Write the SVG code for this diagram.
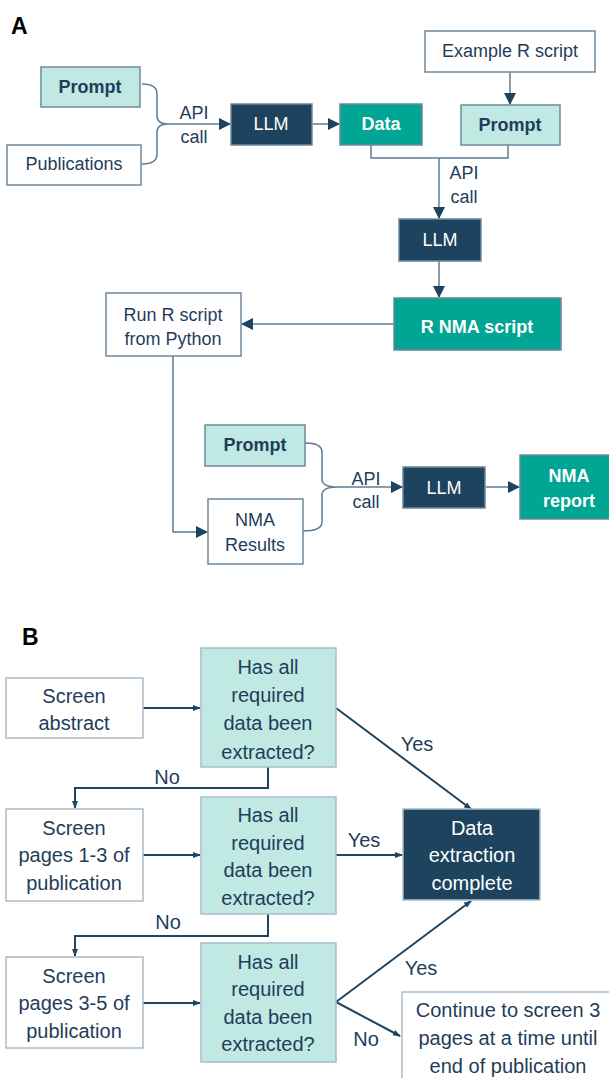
<svg xmlns="http://www.w3.org/2000/svg" width="609" height="1078" viewBox="0 0 609 1078">
<style>
text{font-family:"Liberation Sans",Arial,sans-serif;fill:#1f3d5a;text-anchor:middle}
.lbl{font-size:23px;font-weight:bold;fill:#000;text-anchor:start}
.a{font-size:18px}
.ab{font-size:18px;font-weight:bold}
.w{fill:#fff}
.b{font-size:20px}
.wbox{fill:#fff;stroke:#6f889c;stroke-width:1.5}
.lt{fill:#c0e9e4;stroke:#6f889c;stroke-width:1.5}
.tl{fill:#00a593;stroke:#6f889c;stroke-width:1.5}
.nv{fill:#1d435e;stroke:#6f889c;stroke-width:1.5}
.wboxB{fill:#fff;stroke:#a9bccb;stroke-width:1.5}
.ltB{fill:#c0e9e4;stroke:#a9bccb;stroke-width:1.5}
.nvB{fill:#1d435e;stroke:#a9bccb;stroke-width:1.5}
.cA{fill:none;stroke:#5f7b92;stroke-width:1.5}
.cB{fill:none;stroke:#1f4560;stroke-width:2}
</style>
<defs>
<marker id="ah" markerWidth="12" markerHeight="12" refX="11" refY="6" orient="auto" markerUnits="userSpaceOnUse"><path d="M0,0 L12,6 L0,12 Z" fill="#1d435e"/></marker>
<marker id="sh" markerWidth="8" markerHeight="8" refX="7" refY="4" orient="auto" markerUnits="userSpaceOnUse"><path d="M0,1 L8,4 L0,7 Z" fill="#1f4560"/></marker>
</defs>
<text class="lbl" x="11" y="34">A</text>
<text class="lbl" x="22" y="645">B</text>
<g id="connectors">
<path class="cA" d="M142,84 Q157,84 157,94 L157,116 Q157,124 168,124 M142,164 Q157,164 157,154 L157,132 Q157,124 168,124"/>
<path class="cA" d="M168,124 L230,124" marker-end="url(#ah)"/>
<path class="cA" d="M313,124 L339,124" marker-end="url(#ah)"/>
<path class="cA" d="M510,72 L510,104" marker-end="url(#ah)"/>
<path class="cA" d="M371,145 L371,158 L508,158 L508,145"/>
<path class="cA" d="M439,158 L439,218" marker-end="url(#ah)"/>
<path class="cA" d="M439,261 L439,297" marker-end="url(#ah)"/>
<path class="cA" d="M394,324 L242,324" marker-end="url(#ah)"/>
<path class="cA" d="M173,356 L173,532 L207,532" marker-end="url(#ah)"/>
<path class="cA" d="M305,443 Q322,443 322,452 L322,479 Q322,487 337,487 M303,531 Q322,531 322,522 L322,495 Q322,487 337,487"/>
<path class="cA" d="M337,487 L402,487" marker-end="url(#ah)"/>
<path class="cA" d="M486,487 L519,487" marker-end="url(#ah)"/>
<path class="cB" d="M143,708 L200,708" marker-end="url(#sh)"/>
<path class="cB" d="M268,767 L268,788 L75,788 L75,808" marker-end="url(#sh)"/>
<path class="cB" d="M336,708 L471,809" marker-end="url(#sh)"/>
<path class="cB" d="M143,855 L200,855" marker-end="url(#sh)"/>
<path class="cB" d="M336,855 L402,855" marker-end="url(#sh)"/>
<path class="cB" d="M268,914 L268,936 L75,936 L75,956" marker-end="url(#sh)"/>
<path class="cB" d="M143,1003 L200,1003" marker-end="url(#sh)"/>
<path class="cB" d="M336,1002 L471,901" marker-end="url(#sh)"/>
<path class="cB" d="M336,1002 L400,1036" marker-end="url(#sh)"/>
<text class="a" x="194" y="119">API</text>
<text class="a" x="194" y="143">call</text>
<text class="a" x="464" y="179">API</text>
<text class="a" x="464" y="203">call</text>
<text class="a" x="366" y="485">API</text>
<text class="a" x="366" y="508">call</text>
<text class="b" x="167" y="784">No</text>
<text class="b" x="417" y="751">Yes</text>
<text class="b" x="364" y="847">Yes</text>
<text class="b" x="168" y="929">No</text>
<text class="b" x="421" y="975">Yes</text>
<text class="b" x="366" y="1046">No</text>
</g>
<g id="prompt1"><rect class="lt" x="41" y="67" width="99" height="40"/><text class="ab" x="90" y="93">Prompt</text></g>
<g id="publications"><rect class="wbox" x="7" y="145" width="134" height="40"/><text class="a" x="74" y="170">Publications</text></g>
<g id="llm1"><rect class="nv" x="231" y="104" width="81" height="41"/><text class="a w" x="271" y="130">LLM</text></g>
<g id="data"><rect class="tl" x="340" y="104" width="82" height="41"/><text class="ab w" x="381" y="130">Data</text></g>
<g id="example"><rect class="wbox" x="425" y="31" width="170" height="41"/><text class="a" x="510" y="57">Example R script</text></g>
<g id="prompt2"><rect class="lt" x="461" y="105" width="99" height="40"/><text class="ab" x="510" y="131">Prompt</text></g>
<g id="llm2"><rect class="nv" x="399" y="219" width="82" height="42"/><text class="a w" x="440" y="246">LLM</text></g>
<g id="rnma"><rect class="tl" x="394" y="298" width="167" height="52"/><text class="ab w" x="477" y="333">R NMA script</text></g>
<g id="runr"><rect class="wbox" x="106" y="293" width="135" height="63"/><text class="a" x="173" y="321">Run R script</text><text class="a" x="173" y="345">from Python</text></g>
<g id="prompt3"><rect class="lt" x="205" y="425" width="100" height="41"/><text class="ab" x="255" y="451">Prompt</text></g>
<g id="nmaresults"><rect class="wbox" x="208" y="499" width="95" height="65"/><text class="a" x="255" y="526">NMA</text><text class="a" x="255" y="551">Results</text></g>
<g id="llm3"><rect class="nv" x="403" y="467" width="82" height="41"/><text class="a w" x="444" y="494">LLM</text></g>
<g id="nmareport"><rect class="tl" x="520" y="455" width="100" height="64"/><text class="ab w" x="569" y="482">NMA</text><text class="ab w" x="569" y="507">report</text></g>
<g id="screenabstract"><rect class="wboxB" x="6" y="678" width="137" height="60"/><text class="b" x="74" y="703">Screen</text><text class="b" x="74" y="730">abstract</text></g>
<g id="q1"><rect class="ltB" x="201" y="648" width="135" height="119"/><text class="b" x="268" y="674">Has all</text><text class="b" x="268" y="702">required</text><text class="b" x="268" y="730">data been</text><text class="b" x="268" y="759">extracted?</text></g>
<g id="screen13"><rect class="wboxB" x="6" y="809" width="137" height="92"/><text class="b" x="74" y="835">Screen</text><text class="b" x="74" y="862">pages 1-3 of</text><text class="b" x="74" y="890">publication</text></g>
<g id="q2"><rect class="ltB" x="201" y="797" width="135" height="117"/><text class="b" x="268" y="822">Has all</text><text class="b" x="268" y="850">required</text><text class="b" x="268" y="877">data been</text><text class="b" x="268" y="905">extracted?</text></g>
<g id="complete"><rect class="nvB" x="403" y="809" width="137" height="91"/><text class="b w" x="472" y="835">Data</text><text class="b w" x="472" y="862">extraction</text><text class="b w" x="472" y="890">complete</text></g>
<g id="screen35"><rect class="wboxB" x="6" y="957" width="137" height="91"/><text class="b" x="74" y="983">Screen</text><text class="b" x="74" y="1010">pages 3-5 of</text><text class="b" x="74" y="1038">publication</text></g>
<g id="q3"><rect class="ltB" x="201" y="943" width="135" height="119"/><text class="b" x="268" y="969">Has all</text><text class="b" x="268" y="996">required</text><text class="b" x="268" y="1024">data been</text><text class="b" x="268" y="1051">extracted?</text></g>
<g id="continue"><rect class="wboxB" x="402" y="992" width="220" height="100"/><text class="b" x="508" y="1017">Continue to screen 3</text><text class="b" x="508" y="1045">pages at a time until</text><text class="b" x="508" y="1073">end of publication</text></g>
</svg>
